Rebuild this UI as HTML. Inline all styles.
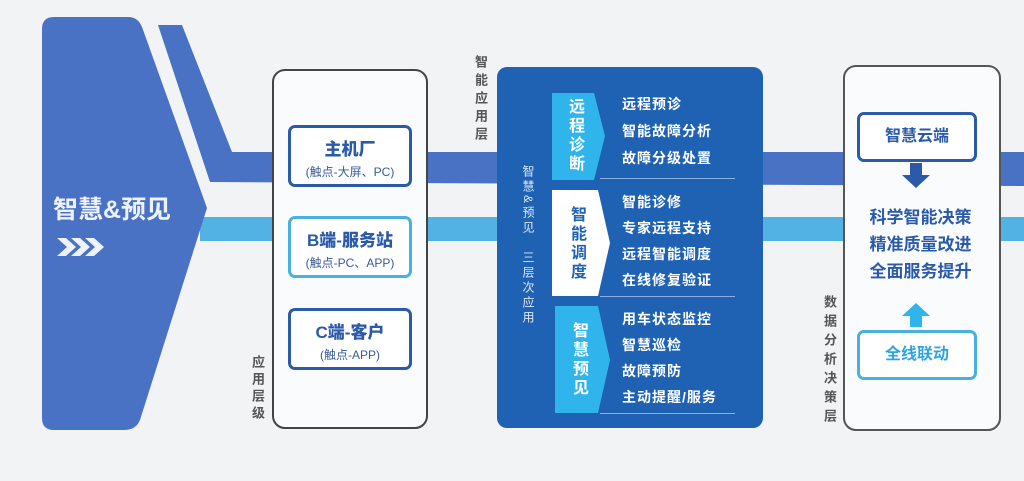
<!DOCTYPE html>
<html><head><meta charset="utf-8"><style>
body{margin:0;width:1024px;height:481px;background:#f2f3f5;overflow:hidden;position:relative;font-family:"Liberation Sans","Noto Sans CJK SC",sans-serif;font-weight:bold}
.a{position:absolute}
.vt{position:absolute;writing-mode:vertical-rl;color:#555;font-size:13px;letter-spacing:4px}
.ib{position:absolute;left:288px;width:118px;border:3px solid #2a5aa8;border-radius:7px;background:#fff;text-align:center;color:#2a5aa8}
.ib b{display:block;font-size:17px;margin-top:7px}
.ib span{display:block;font-size:12px;font-weight:normal;color:#3a5a98;margin-top:3px}
.it{position:absolute;left:622px;color:#fff;font-size:14px;letter-spacing:1px}
.ln{position:absolute;height:1px;background:#8fb0e0}
.ch{position:absolute;writing-mode:vertical-rl;font-size:16px;letter-spacing:3px;line-height:16px}
</style></head><body>
<svg class="a" style="left:0;top:0" width="1024" height="481">
<polygon points="158,25 182,25 232,152 1024,152 1024,186 210,182" fill="#4a72c4"/>
<rect x="200" y="217" width="824" height="24" fill="#52b2e4"/>
<path d="M54,17 H128 Q138,17 142,27 L207,208 L140,420 Q136,430 124,430 H54 Q42,430 42,418 V29 Q42,17 54,17Z" fill="#4a72c4"/>
<text x="53" y="218" fill="#eef2fa" font-size="25" font-weight="bold" font-family="Liberation Sans,Noto Sans CJK SC,sans-serif">智慧&amp;预见</text>
<g fill="#eef2fa">
<polygon points="57,238 66,238 76,247 66,256 57,256 67,247"/>
<polygon points="71,238 80,238 90,247 80,256 71,256 81,247"/>
<polygon points="85,238 94,238 104,247 94,256 85,256 95,247"/>
</g>
</svg>
<div class="a" style="left:272px;top:69px;width:152px;height:356px;border:2px solid #444;border-radius:13px;background:#fafbfd"></div>
<div class="ib" style="top:125px;height:56px"><b>主机厂</b><span>(触点-大屏、PC)</span></div>
<div class="ib" style="top:216px;height:56px;border-color:#4ab0e0"><b>B端-服务站</b><span>(触点-PC、APP)</span></div>
<div class="ib" style="top:308px;height:56px"><b>C端-客户</b><span>(触点-APP)</span></div>
<div class="vt" style="left:248px;top:355px">应用层级</div>
<div class="vt" style="left:471px;top:55px;letter-spacing:5px">智能应用层</div>
<div class="a" style="left:497px;top:67px;width:266px;height:361px;background:#1f62b4;border-radius:10px"></div>
<div class="vt" style="left:520px;top:165px;color:#dbe6f5;font-weight:normal;font-size:12px;letter-spacing:3px">智慧&amp;预见　三层次应用</div>
<svg class="a" style="left:0;top:0" width="1024" height="481">
<polygon points="552,93 594,93 605,136 594,180 552,180" fill="#2fb4ec"/>
<polygon points="552,190 598,190 610,243 598,296 552,296" fill="#fff"/>
<polygon points="555,306 598,306 610,360 598,413 555,413" fill="#2fb4ec"/>
</svg>
<div class="ch" style="left:566px;top:98px;color:#fff">远程诊断</div>
<div class="ch" style="left:568px;top:206px;color:#1f62b4">智能调度</div>
<div class="ch" style="left:570px;top:322px;color:#fff">智慧预见</div>
<div class="ln" style="top:178px;left:600px;width:135px"></div>
<div class="ln" style="top:296px;left:600px;width:135px"></div>
<div class="ln" style="top:413px;left:600px;width:135px"></div>
<div class="it" style="top:94px">远程预诊</div>
<div class="it" style="top:121px">智能故障分析</div>
<div class="it" style="top:148px">故障分级处置</div>
<div class="it" style="top:192px">智能诊修</div>
<div class="it" style="top:218px">专家远程支持</div>
<div class="it" style="top:244px">远程智能调度</div>
<div class="it" style="top:270px">在线修复验证</div>
<div class="it" style="top:309px">用车状态监控</div>
<div class="it" style="top:335px">智慧巡检</div>
<div class="it" style="top:361px">故障预防</div>
<div class="it" style="top:387px">主动提醒/服务</div>
<div class="a" style="left:843px;top:65px;width:154px;height:362px;border:2px solid #555;border-radius:13px;background:#fafbfd"></div>
<div class="a" style="left:857px;top:112px;width:114px;height:44px;border:3px solid #2a5aa8;border-radius:7px;background:#fff;color:#2a5aa8;font-size:16px;text-align:center;line-height:44px">智慧云端</div>
<svg class="a" style="left:0;top:0" width="1024" height="481">
<polygon points="910,163 922,163 922,175 930,175 916,188 902,175 910,175" fill="#2a5aa8"/>
<polygon points="916,303 930,316 922,316 922,327 910,327 910,316 902,316" fill="#2fb4ec"/>
</svg>
<div class="a" style="left:848px;top:204px;width:145px;text-align:center;color:#2a5aa8;font-size:17px;line-height:27px">科学智能决策<br>精准质量改进<br>全面服务提升</div>
<div class="a" style="left:857px;top:330px;width:114px;height:44px;border:3px solid #4ab0e0;border-radius:7px;background:#fff;color:#2fa4dc;font-size:16px;text-align:center;line-height:44px">全线联动</div>
<div class="vt" style="left:820px;top:295px;letter-spacing:6px">数据分析决策层</div>
</body></html>
